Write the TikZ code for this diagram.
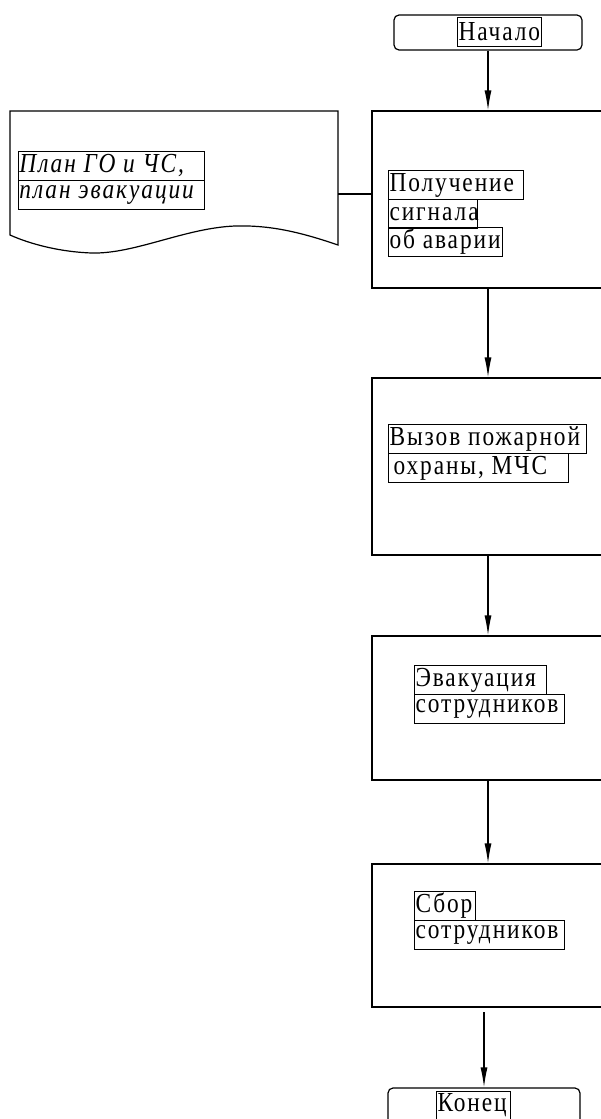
\documentclass[tikz,border=0pt]{standalone}
\usepackage{fontspec}
\setmainfont{Liberation Serif}[LetterSpace=7,FakeStretch=0.85]
\usetikzlibrary{arrows.meta}
\tikzset{
  box/.style={draw, line width=1.2pt, minimum width=240pt, inner sep=0pt},
  term/.style={draw, line width=1.2pt, rounded corners=5pt, inner sep=0pt},
  tl/.style={draw, line width=1pt, anchor=north west, inner xsep=1pt, inner ysep=0pt, minimum height=29pt, font=\fontsize{27.5}{30}\selectfont},
  tli/.style={tl, font=\fontsize{27.5}{30}\selectfont\itshape},
  flow/.style={line width=1.2pt, -{Latex[length=20pt,width=7pt]}},
  plain/.style={line width=1.2pt}
}
\newcommand{\lw}[2]{\makebox[#1pt][l]{#2}}
\begin{document}
\begin{tikzpicture}[x=1pt,y=-1pt]
\useasboundingbox (0,0) rectangle (601,1119);
\clip (0,0) rectangle (601,1119);
% terminals
\node[term, minimum width=188pt, minimum height=35pt] (start) at (488,32.5) {};
\node[tl] (tstart) at (457,17) {\lw{82}{Начало}};
\node[term, minimum width=192pt, minimum height=60pt] (end) at (484,1118) {};
\node[tl, minimum height=28pt] (tend) at (436,1091) {\lw{72}{Конец}};
% process boxes
\node[box, minimum height=177pt] (b1) at (492,199.5) {};
\node[box, minimum height=177pt] (b2) at (492,466.5) {};
\node[box, minimum height=144pt] (b3) at (492,708) {};
\node[box, minimum height=143pt] (b4) at (492,935.5) {};
% document
\draw[plain] (10,111) -- (338,111) -- (338,245)
  .. controls (300,232) and (270,225) .. (235,226)
  .. controls (185,228) and (135,254) .. (92,253)
  .. controls (60,252) and (30,244) .. (10,235) -- cycle;
\coordinate (doc) at (338,194);
% texts
\node[tli] (d1) at (18,151) {\lw{184}{План ГО и ЧС,}};
\node[tli] (d2) at (18,180) {\lw{184}{план эвакуации}};
\node[tl] (t1a) at (388,170) {\lw{133}{Получение}};
\node[tl] (t1b) at (388,199) {\lw{87}{сигнала}};
\node[tl] (t1c) at (388,227) {\lw{112}{об аварии}};
\node[tl] (t2a) at (388,424) {\lw{196}{Вызов пожарной}};
\node[tl] (t2b) at (388,453) {\lw{178}{\hspace{4pt}охраны, МЧС}};
\node[tl] (t3a) at (414,665) {\lw{130}{Эвакуация}};
\node[tl] (t3b) at (414,694) {\lw{148}{сотрудников}};
\node[tl] (t4a) at (414,891) {\lw{59}{Сбор}};
\node[tl] (t4b) at (414,920) {\lw{148}{сотрудников}};
% connectors
\draw[plain] (doc) -- (doc -| b1.west);
\draw[flow] (start.south) -- (start.south |- b1.north);
\draw[flow] (b1.south -| start.south) -- (start.south |- b2.north);
\draw[flow] (b2.south -| start.south) -- (start.south |- b3.north);
\draw[flow] (b3.south -| start.south) -- (start.south |- b4.north);
\coordinate (c4) at (484,1012);
\draw[flow] (c4) -- (c4 |- end.north);
\end{tikzpicture}
\end{document}
